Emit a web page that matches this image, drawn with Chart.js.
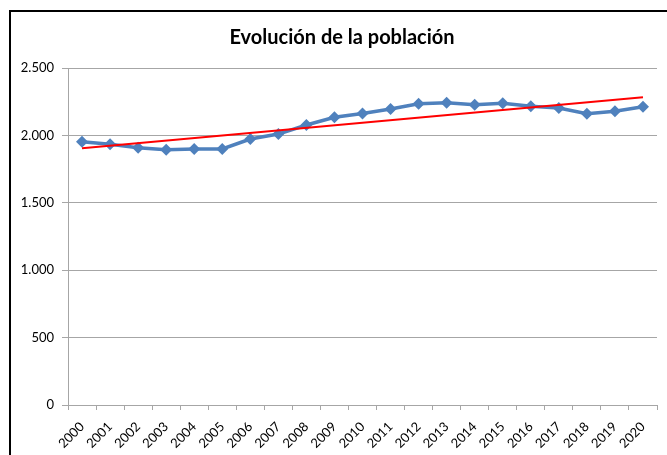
<!DOCTYPE html>
<html>
<head>
<meta charset="utf-8">
<script src="https://cdn.jsdelivr.net/npm/chart.js@4.4.0/dist/chart.umd.min.js"></script>
<style>
  html, body { margin: 0; padding: 0; background: #fff; }
  #wrap { position: relative; width: 667px; height: 455px; overflow: hidden; }
  #frame { position: absolute; left: 9px; top: 10px; width: 700px; height: 500px; border: 2px solid #000; box-sizing: border-box; }
  #myChart { position: absolute; left: 0; top: 0; }
</style>
</head>
<body>
<div id="wrap">
  <div id="frame"></div>
  <canvas id="myChart" width="667" height="455"></canvas>
</div>
<script>
const years = ['2000', '2001', '2002', '2003', '2004', '2005', '2006', '2007', '2008', '2009', '2010',
  '2011', '2012', '2013', '2014', '2015', '2016', '2017', '2018', '2019', '2020'];
const poblacion = [1953, 1934, 1909, 1894, 1899, 1899, 1973, 2010, 2077, 2134, 2162,
  2196, 2235, 2243, 2228, 2238, 2216, 2203, 2161, 2179, 2213];
// linea de tendencia: solo los extremos
const tendenciaInicio = 1904;
const tendenciaFin = 2283;
const yTicks = [0, 500, 1000, 1500, 2000, 2500];
const titulo = 'Evolución de la población';

const tendencia = years.map((y, i) => i === 0 ? tendenciaInicio : (i === years.length - 1 ? tendenciaFin : null));

const fontFamily = 'Lato, "Open Sans", sans-serif';

function miles(v) {
  return String(v).replace(/\B(?=(\d{3})+(?!\d))/g, '.');
}

// titulo un poco a la derecha del centro, como en el original
const tituloPlugin = {
  id: 'tituloPlugin',
  afterDraw(chart) {
    const c = chart.ctx;
    c.save();
    c.font = 'bold 20px ' + fontFamily;
    c.fillStyle = '#000';
    c.textAlign = 'center';
    c.textBaseline = 'middle';
    c.fillText(titulo, 342, 38);
    c.restore();
  }
};

const ctx = document.getElementById('myChart').getContext('2d');

const myChart = new Chart(ctx, {
  type: 'line',
  data: {
    labels: years,
    datasets: [{
      label: 'Población',
      data: poblacion,
      borderColor: '#4F81BD',
      backgroundColor: '#4F81BD',
      borderWidth: 3.5,
      pointStyle: 'rectRot',
      pointRadius: 6,
      pointHoverRadius: 6,
      pointBorderWidth: 0,
      tension: 0,
      order: 2
    },
    {
      label: 'Tendencia',
      data: tendencia,
      borderColor: '#FF0000',
      borderWidth: 2,
      pointRadius: 0,
      spanGaps: true,
      order: 1
    }]
  },
  options: {
    responsive: false,
    animation: false,
    layout: { padding: { top: 68, right: 10, left: 0, bottom: 0 } },
    plugins: {
      legend: { display: false },
      tooltip: { enabled: false },
      title: { display: false }
    },
    scales: {
      x: {
        offset: true,
        grid: {
          offset: true,
          drawOnChartArea: false,
          drawTicks: true,
          tickLength: 5,
          color: '#a6a6a6'
        },
        border: { color: '#a6a6a6' },
        ticks: {
          color: '#000',
          font: { family: fontFamily, size: 13 },
          minRotation: 45,
          maxRotation: 45,
          padding: 9,
          autoSkip: false
        },
        afterFit: (s) => { s.height = 50; }
      },
      y: {
        min: 0,
        max: 2500,
        afterBuildTicks: (s) => { s.ticks = yTicks.map(v => ({ value: v })); },
        grid: {
          color: '#a6a6a6',
          tickLength: 6
        },
        border: { color: '#a6a6a6' },
        ticks: {
          color: '#000',
          font: { family: fontFamily, size: 13 },
          padding: 8,
          callback: (v) => miles(v)
        },
        afterFit: (s) => { s.width = 68; }
      }
    }
  },
  plugins: [tituloPlugin]
});
</script>
</body>
</html>
